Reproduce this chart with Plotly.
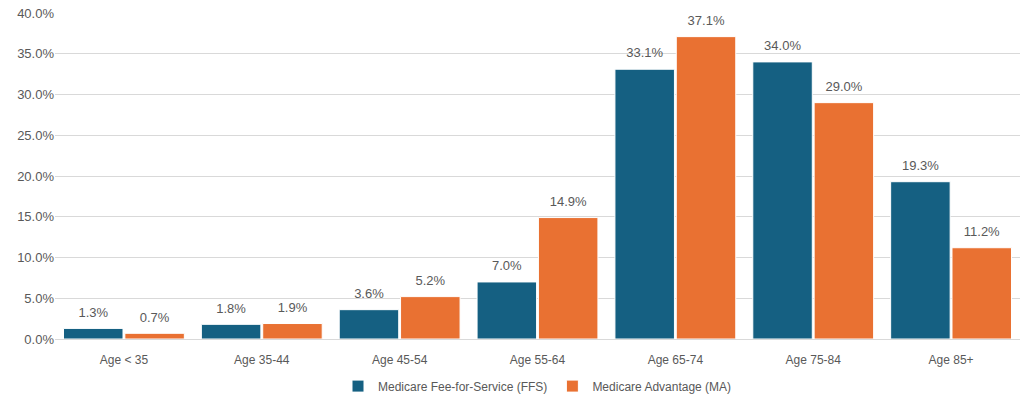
import plotly.graph_objects as go

# Age groups and share of beneficiaries (%)
categories = ['Age < 35', 'Age 35-44', 'Age 45-54', 'Age 55-64', 'Age 65-74', 'Age 75-84', 'Age 85+']
ffs_values = [1.3, 1.8, 3.6, 7.0, 33.1, 34.0, 19.3]
ma_values = [0.7, 1.9, 5.2, 14.9, 37.1, 29.0, 11.2]
y_ticks = [0, 5, 10, 15, 20, 25, 30, 35, 40]

text_color = '#595959'
font_family = 'Liberation Sans, Arial, sans-serif'
series = [
    ('Medicare Fee-for-Service (FFS)', ffs_values, '#156082'),
    ('Medicare Advantage (MA)', ma_values, '#E97132'),
]

fig = go.Figure()

for i, (name, vals, color) in enumerate(series):
    fig.add_trace(go.Bar(
        x=categories, y=vals, name=name, offsetgroup=str(i),
        marker=dict(color=color, line=dict(color='white', width=1)),
    ))
    # value labels a little above each bar
    fig.add_trace(go.Scatter(
        x=categories, y=vals, mode='markers+text', offsetgroup=str(i),
        marker=dict(size=12, opacity=0), showlegend=False, hoverinfo='skip',
        text=[f'{v:.1f}%' for v in vals], textposition='top center',
        textfont=dict(color=text_color, size=13), cliponaxis=False,
    ))

fig.update_layout(
    width=1024, height=405,
    margin=dict(l=55, r=4, t=13, b=61),
    plot_bgcolor='white', paper_bgcolor='white',
    font=dict(family=font_family, color=text_color, size=13),
    barmode='group', bargap=0.11, bargroupgap=0.03,
    scattermode='group', scattergap=0.11,
    legend=dict(orientation='h', x=0.5, xanchor='center', y=-0.10, yanchor='top',
                font=dict(size=12), itemwidth=30),
)
fig.update_yaxes(
    range=[0, 40], tickvals=y_ticks, ticktext=[f'{v:.1f}%' for v in y_ticks],
    showgrid=True, gridcolor='#d9d9d9', gridwidth=1, zeroline=False,
    showline=False, ticks='', tickfont=dict(size=13, color=text_color),
    automargin=False,
)
fig.update_xaxes(
    showline=True, linecolor='#d9d9d9', linewidth=1, ticks='',
    tickfont=dict(size=12, color=text_color), ticklabelstandoff=10,
    automargin=False,
)

# drop the default page margin so the figure sits at the window corner
fig.write_html('out.html', config={'displayModeBar': False},
               post_script="document.body.style.margin='0';")
